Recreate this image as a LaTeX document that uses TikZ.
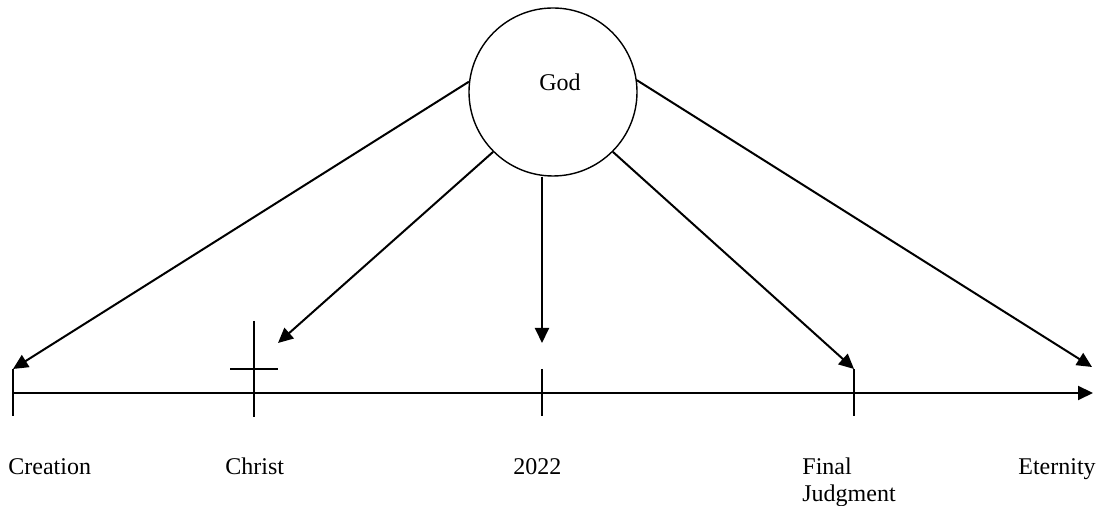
\documentclass[tikz,border=0pt]{standalone}
\usepackage{fontspec}
\setmainfont{Liberation Serif}
\usetikzlibrary{arrows.meta,positioning}

\begin{document}
\begin{tikzpicture}[
        x=0.5pt, y=-0.5pt,
        font=\fontsize{12}{13.5}\selectfont,
        arr/.style={-{Triangle[length=7.5pt, width=7pt]}, line width=1pt},
        tick/.style={line width=1pt},
        lbl/.style={anchor=base west, inner sep=0pt, align=left}
    ]
        \useasboundingbox (0,0) rectangle (1098,506);

        % God
        \node[circle, draw, line width=0.7pt, minimum size=84pt, inner sep=0pt] (god) at (553,92) {};
        \node[inner sep=0pt] (godlbl) at (560,82) {God};

        % time line
        \coordinate (start) at (13,393);
        \coordinate (stop) at (1093,393);
        \draw[arr] (start) -- (stop);

        % marks on the line
        \coordinate (creationtop) at (13,369);
        \coordinate (creationbot) at (13,416);
        \coordinate (christtop) at (254,321);
        \coordinate (christbot) at (254,417);
        \coordinate (barleft) at (230,369);
        \coordinate (barright) at (278,369);
        \coordinate (nowtop) at (542,369);
        \coordinate (nowbot) at (542,416);
        \coordinate (finaltop) at (854,369);
        \coordinate (finalbot) at (854,416);
        \draw[tick] (creationtop) -- (creationbot);
        \draw[tick] (christtop) -- (christbot);
        \draw[tick] (barleft) -- (barright);
        \draw[tick] (nowtop) -- (nowbot);
        \draw[tick] (finaltop) -- (finalbot);

        % arrow ends
        \coordinate (christtip) at (278,343);
        \coordinate (nowtip) at (542,343);
        \coordinate (eternitytip) at (1092,367);

        \draw[arr] (god.173) -- (creationtop);
        \draw[arr] (god.225) -- (christtip);
        \draw[arr] (nowtip |- god.south) -- (nowtip);
        \draw[arr] (god.315) -- (finaltop);
        \draw[arr] (god.8) -- (eternitytip);

        % labels
        \node[lbl] (creation) at (8,475) {Creation};
        \node[lbl] (christ) at (225,475) {Christ};
        \node[lbl] (now) at (513,475) {2022};
        \node[lbl] (final) at (802,502) {Final\\Judgment};
        \node[lbl] (eternity) at (1018,475) {Eternity};
    \end{tikzpicture}
\end{document}
